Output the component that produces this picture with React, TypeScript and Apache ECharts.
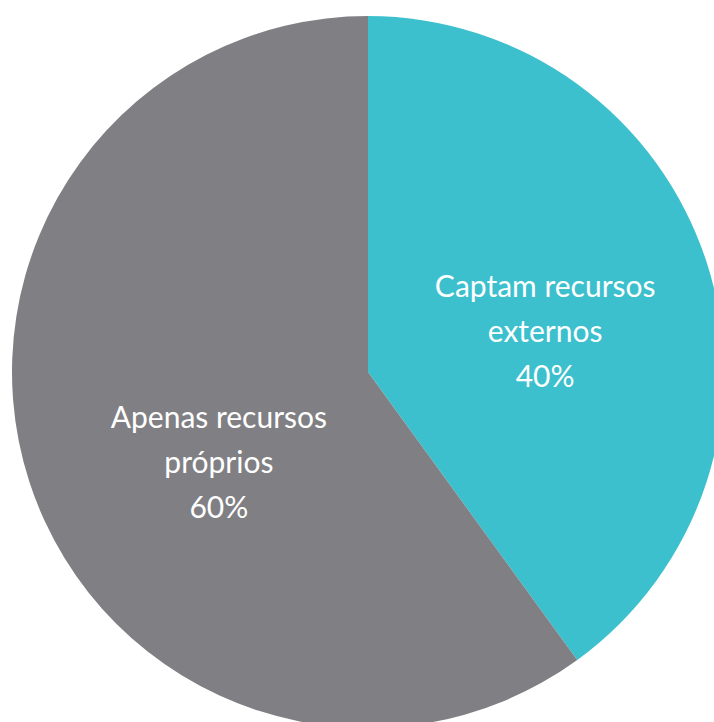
import React, { useEffect, useRef } from "react";
import * as echarts from "echarts";

const categories = ["Captam recursos\nexternos", "Apenas recursos\npróprios"];
const values = [40, 60];
const colors = ["#3cc0ce", "#808084"];

export default function App() {
  const ref = useRef<HTMLDivElement>(null);
  useEffect(() => {
    if (!ref.current) return;
    const chart = echarts.init(ref.current, null, { renderer: "svg" });
    const offsets = [[5, 14], [23, 33]];
    chart.setOption({
      animation: false,
      backgroundColor: "#ffffff",
      series: [
        {
          type: "pie",
          center: [368, 372],
          radius: 356,
          startAngle: 90,
          clockwise: true,
          silent: true,
          labelLine: { show: false },
          itemStyle: { borderWidth: 0 },
          data: categories.map((name, i) => ({
            name,
            value: values[i],
            itemStyle: { color: colors[i] },
            label: {
              show: true,
              position: "inside",
              offset: offsets[i],
              formatter: "{b}\n{c}%",
              color: "#ffffff",
              fontSize: 30,
              lineHeight: 45,
              fontFamily: "Lato, 'Noto Sans', sans-serif",
              align: "center",
              verticalAlign: "middle",
            },
          })),
        },
      ],
    });
    return () => chart.dispose();
  }, []);
  return (
    <div
      ref={ref}
      style={{ position: "fixed", left: 0, top: 0, width: 714, height: 722 }}
    />
  );
}
